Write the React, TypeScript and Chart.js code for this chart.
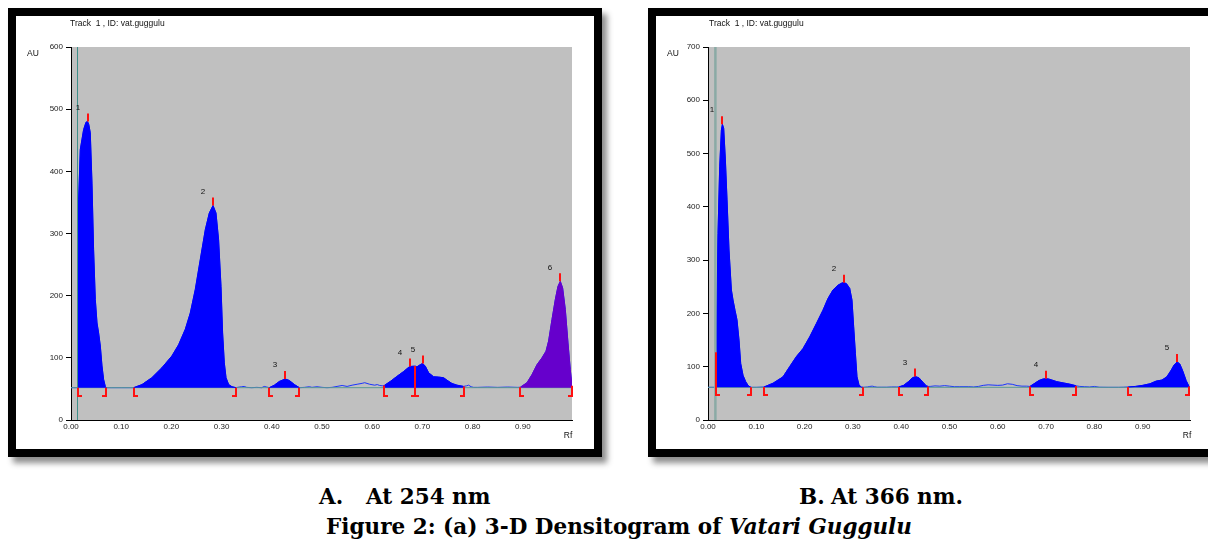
import React, { useEffect, useRef } from 'react';
import { Chart, registerables } from 'chart.js';

Chart.register(...registerables);

// ---------------- Panel A (254 nm) ----------------
const rfA = [
  0.0, 0.013, 0.0135, 0.0152, 0.0185, 0.0251, 0.0299, 0.033, 0.0355, 0.0384, 0.0418, 0.045, 0.0484, 0.0518,
  0.055, 0.0584, 0.0617, 0.065, 0.0683, 0.0703, 0.08, 0.1, 0.1248, 0.1414, 0.161, 0.181, 0.201, 0.2143,
  0.2277, 0.2376, 0.2476, 0.2575, 0.2675, 0.2755, 0.2829, 0.2888, 0.294, 0.2988, 0.302, 0.3054, 0.3088,
  0.314, 0.3207, 0.3287, 0.335, 0.34, 0.345, 0.35, 0.36, 0.37, 0.38, 0.385, 0.39, 0.395, 0.405, 0.415,
  0.4267, 0.435, 0.445, 0.455, 0.465, 0.475, 0.48, 0.49, 0.5, 0.51, 0.52, 0.53, 0.54, 0.55, 0.56, 0.57,
  0.58, 0.585, 0.595, 0.605, 0.61, 0.615, 0.62, 0.624, 0.636, 0.649, 0.6626, 0.6745, 0.6825, 0.686, 0.689,
  0.6958, 0.7004, 0.7058, 0.7124, 0.7223, 0.7323, 0.7422, 0.749, 0.759, 0.769, 0.782, 0.788, 0.792, 0.797,
  0.802, 0.81, 0.83, 0.85, 0.87, 0.89, 0.895, 0.9084, 0.9183, 0.9283, 0.9382, 0.9462, 0.9514, 0.9582,
  0.9648, 0.9701, 0.9747, 0.9793, 0.9847, 0.99, 0.9946, 0.998,
];
const auA = [
  52, 52, 210, 354, 435, 467, 479, 480, 475, 462, 381, 274, 194, 156,
  140, 119, 87, 65, 54, 52, 52, 52, 52, 57, 68, 84, 103, 121,
  146, 172, 210, 258, 306, 333, 345, 333, 290, 215, 140, 92, 68,
  57, 53.5, 52, 53, 53.5, 54, 52.5, 52, 52.5, 52, 54, 53, 52, 56, 62,
  66, 63.5, 57, 52, 52.5, 53.5, 52.5, 53.5, 52.5, 52, 52.5, 54, 55.5, 54, 56, 57.5,
  59, 60, 57.5, 56, 57, 55.5, 55, 55.5, 62, 70, 78, 86, 86.5, 86.5, 85.5,
  89, 91, 86.5, 76, 69.5, 69, 68, 64, 58.7, 56, 54, 55, 56, 53.5,
  52.5, 52.5, 53, 52.5, 53, 52.5, 52.7, 60, 73, 89, 100, 110.6, 127, 162,
  194, 215, 223, 212.5, 177.6, 124, 81, 55,
];
const baselineA = 52;
const trackRfA = 0.013;
const peakNamesA = ['1', '2', '3', '4', '5', '6'];
const peakStartA = [0.013, 0.1248, 0.395, 0.624, 0.686, 0.895];
const peakEndA = [0.0703, 0.3287, 0.455, 0.686, 0.782, 0.998];
const peakTopA = [0.033, 0.2829, 0.4267, 0.6745, 0.7004, 0.9747];
const yTicksA = [0, 100, 200, 300, 400, 500, 600];

// ---------------- Panel B (366 nm) ----------------
const rfB = [
  0.0, 0.017, 0.0174, 0.0207, 0.0242, 0.0277, 0.0298, 0.0325, 0.036, 0.0394, 0.0435, 0.0484, 0.0518,
  0.0559, 0.06, 0.0642, 0.0677, 0.0725, 0.078, 0.0836, 0.089, 0.1, 0.116, 0.1346, 0.1553, 0.169, 0.183,
  0.1967, 0.2106, 0.2244, 0.238, 0.2484, 0.2588, 0.2692, 0.2782, 0.2816, 0.2865, 0.2934, 0.2981, 0.3016,
  0.3052, 0.3085, 0.3126, 0.3175, 0.321, 0.33, 0.335, 0.34, 0.345, 0.35, 0.36, 0.37, 0.38, 0.39, 0.395,
  0.405, 0.415, 0.423, 0.4295, 0.437, 0.445, 0.452, 0.456, 0.46, 0.47, 0.48, 0.49, 0.5, 0.51, 0.52, 0.53,
  0.54, 0.55, 0.56, 0.57, 0.58, 0.59, 0.6, 0.61, 0.62, 0.63, 0.64, 0.65, 0.66, 0.6665, 0.675, 0.685,
  0.694, 0.699, 0.705, 0.712, 0.722, 0.733, 0.745, 0.755, 0.7625, 0.77, 0.78, 0.79, 0.8, 0.81, 0.83,
  0.85, 0.86, 0.87, 0.885, 0.9, 0.915, 0.928, 0.94, 0.95, 0.958, 0.965, 0.9715, 0.977, 0.983, 0.99,
  0.996, 0.998,
];
const auB = [
  61.3, 61.3, 127, 350, 475, 544, 555, 547, 488, 413, 319, 244, 225,
  206, 188, 150, 106, 84, 72, 64, 61.3, 61.3, 62, 69, 81, 100, 119,
  134, 156, 181, 206, 228, 244, 253, 257.5, 257.5, 256, 247, 225, 175,
  125, 81, 66, 61.5, 61.3, 62, 63, 63.5, 62.5, 61.5, 61.5, 61.5, 62, 62, 62,
  65, 72, 79, 81.5, 79, 71, 64, 63, 63, 64, 63.5, 64.5, 63.5, 62.5, 62.5, 62.5,
  62.5, 62, 63, 65, 66, 65.5, 65, 65.5, 68, 67, 64.5, 63.5, 63.5, 63, 68, 74,
  77, 77.5, 77, 75, 72, 70, 68, 66, 64, 63, 62.5, 62, 63, 61.5, 61.3,
  61.3, 61.5, 62, 63, 65, 68, 73, 75, 81, 92, 103, 109, 105, 92, 74,
  63, 62,
];
const baselineB = 61.3;
const trackRfB = 0.0153;
const peakNamesB = ['1', '2', '3', '4', '5'];
const peakStartB = [0.0174, 0.116, 0.395, 0.6665, 0.87];
const peakEndB = [0.089, 0.321, 0.456, 0.7625, 0.996];
const peakTopB = [0.0298, 0.2816, 0.4295, 0.699, 0.9715];
const yTicksB = [0, 100, 200, 300, 400, 500, 600, 700];

// shared axis
const xTicks = [0, 0.1, 0.2, 0.3, 0.4, 0.5, 0.6, 0.7, 0.8, 0.9];
const xMin = 0;
const xMax = 0.998;
const trackTitle = 'Track  1 , ID: vat.guggulu';

// styles
const BLUE = '#0000ff';
const PURPLE = '#6600cc';
const RED = '#ff1010';
const peakColorsA = [BLUE, BLUE, BLUE, BLUE, BLUE, PURPLE];
const peakColorsB = [BLUE, BLUE, BLUE, BLUE, BLUE];
const FONT = '"Liberation Sans", Arial, sans-serif';

function valueAt(xs: number[], ys: number[], x: number) {
  let best = 0;
  for (let i = 0; i < xs.length; i++) {
    if (Math.abs(xs[i] - x) < Math.abs(xs[best] - x)) best = i;
  }
  return ys[best];
}

type Props = {
  rf: number[];
  au: number[];
  baseline: number;
  trackRf: number;
  names: string[];
  starts: number[];
  ends: number[];
  tops: number[];
  colors: string[];
  yTicks: number[];
  yMax: number;
  axisWidth: number;
  padTop: number;
  padRight: number;
  trackColor: string;
  trackWidth: number;
  auDx: number;
  titleDx: number;
  rfDx: number;
};

function Densitogram(p: Props) {
  const ref = useRef<HTMLCanvasElement>(null);
  useEffect(() => {
    const canvas = ref.current!;
    const pts = p.rf.map((x, i) => ({ x, y: p.au[i] }));
    const plugin = {
      id: 'densito',
      beforeDraw(chart: any) {
        const { ctx, chartArea: a } = chart;
        ctx.save();
        ctx.fillStyle = '#c0c0c0';
        ctx.fillRect(a.left, a.top, a.right - a.left, a.bottom - a.top);
        ctx.restore();
      },
      afterDatasetsDraw(chart: any) {
        const { ctx } = chart;
        const xs = chart.scales.x;
        const ys = chart.scales.y;
        const by = ys.getPixelForValue(p.baseline);
        ctx.save();
        ctx.lineWidth = 2;
        ctx.lineCap = 'butt';
        p.tops.forEach((t, i) => {
          const v = valueAt(p.rf, p.au, t);
          const px = Math.round(xs.getPixelForValue(t));
          const py = ys.getPixelForValue(v);
          ctx.strokeStyle = RED;
          ctx.beginPath();
          ctx.moveTo(px, py);
          ctx.lineTo(px, py - 8);
          ctx.stroke();
          ctx.fillStyle = '#111';
          ctx.font = '8px ' + FONT;
          ctx.textAlign = 'center';
          ctx.textBaseline = 'middle';
          ctx.fillText(p.names[i], px - 10, py - 14);
        });
        const bracket = (r: number, dir: number) => {
          const v = valueAt(p.rf, p.au, r);
          const px = Math.round(xs.getPixelForValue(r));
          const top = Math.min(ys.getPixelForValue(v), by);
          const bot = Math.round(by + 8);
          ctx.strokeStyle = RED;
          ctx.beginPath();
          ctx.moveTo(px, top);
          ctx.lineTo(px, bot);
          ctx.lineTo(px + dir * 4, bot);
          ctx.stroke();
        };
        p.starts.forEach((s) => bracket(s, 1));
        p.ends.forEach((e) => bracket(e, -1));
        ctx.restore();
      },
      afterDraw(chart: any) {
        const { ctx, chartArea: a } = chart;
        ctx.save();
        ctx.fillStyle = '#111';
        ctx.font = '8.5px ' + FONT;
        ctx.textBaseline = 'middle';
        ctx.textAlign = 'left';
        ctx.fillText(trackTitle, a.left + p.titleDx, a.top - 23);
        ctx.textAlign = 'center';
        ctx.fillText('AU', a.left - p.auDx, a.top + 7);
        ctx.fillText('Rf', a.right - p.rfDx, a.bottom + 16);
        ctx.restore();
      },
    };

    const peakSets = p.starts.map((s, i) => ({
      label: 'peak ' + p.names[i],
      data: pts.filter((q) => q.x >= s - 1e-9 && q.x <= p.ends[i] + 1e-9),
      borderColor: p.colors[i],
      backgroundColor: p.colors[i],
      borderWidth: 1,
      pointRadius: 0,
      tension: 0,
      fill: { value: p.baseline },
      order: 2,
    }));

    const chart = new Chart(canvas, {
      type: 'line',
      data: {
        datasets: [
          {
            label: 'track',
            data: [
              { x: p.trackRf, y: 0 },
              { x: p.trackRf, y: p.yMax },
            ],
            borderColor: p.trackColor,
            borderWidth: p.trackWidth,
            pointRadius: 0,
            fill: false,
            order: 0,
          },
          ...peakSets,
          {
            label: 'baseline',
            data: [
              { x: xMin, y: p.baseline },
              { x: xMax, y: p.baseline },
            ],
            borderColor: '#5b9a94',
            borderWidth: 1,
            pointRadius: 0,
            fill: false,
            order: 3,
          },
          {
            label: 'trace',
            data: pts,
            borderColor: '#1a33ff',
            borderWidth: 1,
            pointRadius: 0,
            tension: 0,
            fill: false,
            order: 4,
          },
        ] as any,
      },
      options: {
        animation: false,
        responsive: false,
        devicePixelRatio: 1,
        events: [],
        layout: { padding: { left: 0, top: p.padTop, right: p.padRight, bottom: 0 } },
        plugins: { legend: { display: false }, tooltip: { enabled: false } },
        scales: {
          x: {
            type: 'linear',
            min: xMin,
            max: xMax,
            afterBuildTicks: (s: any) => {
              s.ticks = xTicks.map((v) => ({ value: v }));
            },
            afterFit: (s: any) => {
              s.height = 29;
            },
            ticks: {
              callback: (v: any) => Number(v).toFixed(2),
              font: { size: 8, family: FONT },
              color: '#222',
              padding: 2,
              maxRotation: 0,
              autoSkip: false,
            },
            grid: { display: true, drawOnChartArea: false, drawTicks: false },
            border: { display: true, color: '#000', width: 1 },
          },
          y: {
            type: 'linear',
            min: 0,
            max: p.yMax,
            afterBuildTicks: (s: any) => {
              s.ticks = p.yTicks.map((v) => ({ value: v }));
            },
            afterFit: (s: any) => {
              s.width = p.axisWidth;
            },
            ticks: {
              callback: (v: any) => String(v),
              font: { size: 8, family: FONT },
              color: '#222',
              padding: 3,
              autoSkip: false,
            },
            grid: { display: true, drawOnChartArea: false, drawTicks: true, tickLength: 5, color: '#000' },
            border: { display: true, color: '#000', width: 1 },
          },
        },
      } as any,
      plugins: [plugin as any],
    });
    return () => chart.destroy();
  }, []);
  return <canvas ref={ref} width={578} height={433} style={{ display: 'block', width: 578, height: 433 }} />;
}

const frame: React.CSSProperties = {
  position: 'absolute',
  top: 8,
  width: 594,
  height: 449,
  boxSizing: 'border-box',
  border: '8px solid #000',
  background: '#fff',
  boxShadow: '5px 6px 6px rgba(0,0,0,0.45)',
};

const cap: React.CSSProperties = {
  position: 'absolute',
  fontFamily: '"DejaVu Serif", serif',
  fontWeight: 'bold',
  fontSize: 21.5,
  lineHeight: '22px',
  color: '#000',
  whiteSpace: 'pre',
};

export default function App() {
  return (
    <div style={{ position: 'fixed', left: 0, top: 0, width: 1208, height: 545, background: '#fff', overflow: 'hidden' }}>
      <div style={{ ...frame, left: 8 }}>
        <Densitogram
          rf={rfA}
          au={auA}
          baseline={baselineA}
          trackRf={trackRfA}
          names={peakNamesA}
          starts={peakStartA}
          ends={peakEndA}
          tops={peakTopA}
          colors={peakColorsA}
          yTicks={yTicksA}
          yMax={600}
          axisWidth={55}
          padTop={31}
          padRight={22}
          trackColor="#3f8f8a"
          trackWidth={1}
          auDx={38}
          titleDx={-1}
          rfDx={4}
        />
      </div>
      <div style={{ ...frame, left: 648 }}>
        <Densitogram
          rf={rfB}
          au={auB}
          baseline={baselineB}
          trackRf={trackRfB}
          names={peakNamesB}
          starts={peakStartB}
          ends={peakEndB}
          tops={peakTopB}
          colors={peakColorsB}
          yTicks={yTicksB}
          yMax={700}
          axisWidth={52}
          padTop={31}
          padRight={44}
          trackColor="#8aaaa5"
          trackWidth={2.5}
          auDx={35}
          titleDx={1}
          rfDx={3}
        />
      </div>
      <div style={{ ...cap, left: 319, top: 486 }}>A.</div>
      <div style={{ ...cap, left: 366, top: 486 }}>At 254 nm</div>
      <div style={{ ...cap, left: 799, top: 486 }}>B.</div>
      <div style={{ ...cap, left: 831, top: 486 }}>At 366 nm.</div>
      <div style={{ ...cap, left: 0, width: 1238, top: 516, textAlign: 'center' }}>
        Figure 2: (a) 3-D Densitogram of <i>Vatari Guggulu</i>
      </div>
    </div>
  );
}
